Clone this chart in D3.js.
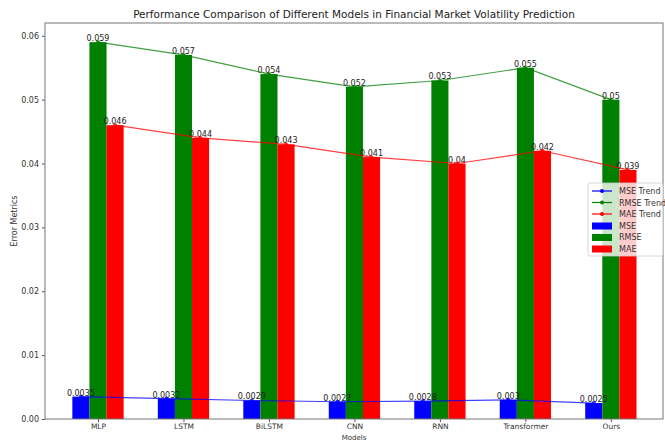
<!DOCTYPE html>
<html>
<head>
<meta charset="utf-8">
<script src="https://cdn.jsdelivr.net/npm/d3@7"></script>
<style>
  html, body { margin: 0; padding: 0; background: #fff; }
  svg { display: block; font-family: "DejaVu Sans", sans-serif; }
</style>
</head>
<body>
<svg id="chart" width="665" height="440"></svg>
<script>
// Models compared and their error metrics
const models = ["MLP", "LSTM", "BiLSTM", "CNN", "RNN", "Transformer", "Ours"];
const mseValues = [0.0035, 0.0032, 0.0029, 0.0027, 0.0028, 0.003, 0.0025];
const rmseValues = [0.059, 0.057, 0.054, 0.052, 0.053, 0.055, 0.05];
const maeValues = [0.046, 0.044, 0.043, 0.041, 0.04, 0.042, 0.039];
const yTicks = [0.00, 0.01, 0.02, 0.03, 0.04, 0.05, 0.06];

const series = [
  { name: "MSE", values: mseValues, color: "#0000ff", offset: -1 },
  { name: "RMSE", values: rmseValues, color: "#008000", offset: 0 },
  { name: "MAE", values: maeValues, color: "#ff0000", offset: 1 }
];

const svg = d3.select("#chart");
const margin = { left: 45, right: 2, top: 23, bottom: 21 };
const W = 665, H = 440;
const barW = 0.2;

// Continuous x in model-index units, padded like a default plot margin
const x = d3.scaleLinear()
  .domain([-0.62, models.length - 1 + 0.61])
  .range([margin.left, W - margin.right]);
const y = d3.scaleLinear()
  .domain([0, 0.062])
  .range([H - margin.bottom, margin.top]);

const plot = svg.append("g");

// Bars
series.forEach(s => {
  plot.selectAll(null)
    .data(s.values)
    .join("rect")
    .attr("x", (d, i) => x(i + s.offset * barW - barW / 2))
    .attr("width", x(barW) - x(0))
    .attr("y", d => y(d))
    .attr("height", d => y(0) - y(d))
    .attr("fill", s.color);
});

// Value labels above each bar
series.forEach(s => {
  plot.selectAll(null)
    .data(s.values)
    .join("text")
    .attr("x", (d, i) => x(i + s.offset * barW))
    .attr("y", d => y(d) - 1)
    .attr("text-anchor", "middle")
    .attr("font-size", 8)
    .attr("fill", "#222")
    .text(d => String(d));
});

// Trend lines with markers
series.forEach(s => {
  const line = d3.line()
    .x((d, i) => x(i + s.offset * barW))
    .y(d => y(d));
  plot.append("path")
    .datum(s.values)
    .attr("d", line)
    .attr("fill", "none")
    .attr("stroke", s.color)
    .attr("stroke-opacity", 0.75)
    .attr("stroke-width", 1.2);
  plot.selectAll(null)
    .data(s.values)
    .join("circle")
    .attr("cx", (d, i) => x(i + s.offset * barW))
    .attr("cy", d => y(d))
    .attr("r", 2)
    .attr("fill", s.color)
    .attr("fill-opacity", 0.8);
});

// Axes
const xAxis = d3.axisBottom(x)
  .tickValues(d3.range(models.length))
  .tickFormat(i => models[i])
  .tickSize(3)
  .tickPadding(2);
const yAxis = d3.axisLeft(y)
  .tickValues(yTicks)
  .tickFormat(d3.format(".2f"))
  .tickSize(3)
  .tickPadding(3);

const gx = svg.append("g")
  .attr("transform", `translate(0,${H - margin.bottom})`)
  .call(xAxis);
const gy = svg.append("g")
  .attr("transform", `translate(${margin.left},0)`)
  .call(yAxis);
[gx, gy].forEach(g => {
  g.select(".domain").remove();
  g.selectAll("text").attr("font-size", 8).attr("fill", "#333").attr("font-family", "DejaVu Sans");
  g.selectAll("line").attr("stroke", "#555");
});
gx.selectAll("text").attr("font-size", 7.5);

// Frame around plot area
svg.append("rect")
  .attr("x", margin.left)
  .attr("y", margin.top)
  .attr("width", W - margin.right - margin.left)
  .attr("height", H - margin.bottom - margin.top)
  .attr("fill", "none")
  .attr("stroke", "#777")
  .attr("stroke-width", 1);

// Title and axis labels
svg.append("text")
  .attr("x", (margin.left + W - margin.right) / 2)
  .attr("y", 18)
  .attr("text-anchor", "middle")
  .attr("font-size", 10.5)
  .attr("fill", "#222")
  .text("Performance Comparison of Different Models in Financial Market Volatility Prediction");

svg.append("text")
  .attr("x", (margin.left + W - margin.right) / 2)
  .attr("y", 439.5)
  .attr("text-anchor", "middle")
  .attr("font-size", 7)
  .attr("fill", "#333")
  .text("Models");

svg.append("text")
  .attr("transform", `translate(17,${(margin.top + H - margin.bottom) / 2}) rotate(-90)`)
  .attr("text-anchor", "middle")
  .attr("font-size", 8)
  .attr("fill", "#333")
  .text("Error Metrics");

// Legend
const legend = svg.append("g").attr("transform", "translate(588,183)");
legend.append("rect")
  .attr("width", 75).attr("height", 73).attr("rx", 2)
  .attr("fill", "#fff").attr("fill-opacity", 0.8)
  .attr("stroke", "#ccc").attr("stroke-width", 0.8);
const items = [
  ...series.map(s => ({ label: s.name + " Trend", color: s.color, kind: "line" })),
  ...series.map(s => ({ label: s.name, color: s.color, kind: "patch" }))
];
items.forEach((it, i) => {
  const g = legend.append("g").attr("transform", `translate(4,${8 + i * 11.5})`);
  if (it.kind === "line") {
    g.append("line").attr("x1", 0).attr("x2", 20).attr("y1", 0).attr("y2", 0)
      .attr("stroke", it.color).attr("stroke-width", 1.2);
    g.append("circle").attr("cx", 10).attr("cy", 0).attr("r", 2).attr("fill", it.color);
  } else {
    g.append("rect").attr("x", 0).attr("y", -3).attr("width", 20).attr("height", 7)
      .attr("fill", it.color);
  }
  g.append("text").attr("x", 27).attr("y", 3)
    .attr("font-size", 8).attr("fill", "#333").text(it.label);
});
</script>
</body>
</html>
